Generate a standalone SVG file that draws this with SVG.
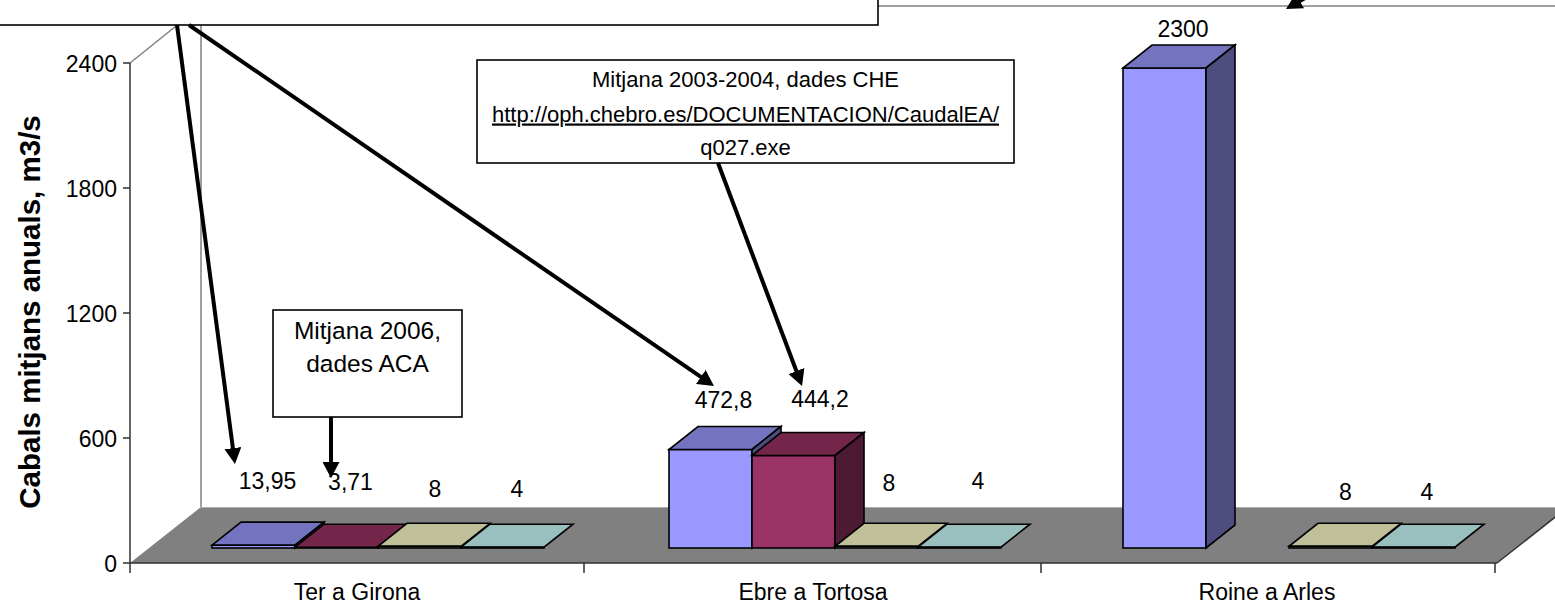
<svg xmlns="http://www.w3.org/2000/svg" width="1555" height="606" viewBox="0 0 1555 606">
<style>
text{font-family:"Liberation Sans",Arial,sans-serif;fill:#000}
.t{font-size:23px}
.m{text-anchor:middle}
.e{text-anchor:end}
.n1{font-size:24.5px}
.n2{font-size:22px}
.ttl{font-size:29.5px;font-weight:bold;text-anchor:middle}
.wall{stroke:#808080;stroke-width:1.5;fill:none}
.ax{stroke:#303030;stroke-width:1.5;fill:none}
.bar{stroke:#000;stroke-width:1.6;stroke-linejoin:miter}
.s1f{fill:#9999FF}.s1t{fill:#7373BF}.s1s{fill:#4D4D80}
.s2f{fill:#993366}.s2t{fill:#732649}.s2s{fill:#4D1A33}
.s3f{fill:#FFFFCC}.s3t{fill:#BFBF99}.s3s{fill:#808066}
.s4f{fill:#CCFFFF}.s4t{fill:#99BFBF}.s4s{fill:#668080}
.box{fill:#fff;stroke:#000;stroke-width:1.6}
.arr{stroke:#000;stroke-width:4;fill:none;marker-end:url(#ah)}
</style>
<defs>
<marker id="ah" markerUnits="userSpaceOnUse" viewBox="0 0 16 17" markerWidth="16" markerHeight="17" refX="4" refY="8.5" orient="auto">
<path d="M0,0 L16,8.5 L0,17 Z" fill="#000"/>
</marker>
</defs>
<rect width="1555" height="606" fill="#fff"/>
<g id="chart-frame">
<polygon points="130,563 201,507 1568,507 1497,563" fill="#808080"/>
<line class="wall" x1="201" y1="6" x2="1560" y2="6"/>
<line class="wall" x1="201" y1="6" x2="201" y2="507"/>
<line class="wall" x1="130" y1="63" x2="201" y2="6"/>
<line x1="201" y1="507.5" x2="1568" y2="507.5" stroke="#B0B0B0" stroke-width="1"/>
<line class="ax" x1="130" y1="563" x2="1497" y2="563"/>
<line class="ax" x1="1497" y1="563" x2="1568" y2="507"/>
<line class="ax" x1="130" y1="63" x2="130" y2="573"/>
<path class="ax" d="M123,63H130M123,188H130M123,313H130M123,438H130M123,563H130M584,563V573M1041,563V573M1495,563V573"/>
</g>
<g id="y-axis-labels">
<text class="t e" x="117" y="71.5">2400</text>
<text class="t e" x="117" y="196.5">1800</text>
<text class="t e" x="117" y="321.5">1200</text>
<text class="t e" x="117" y="446.5">600</text>
<text class="t e" x="117" y="571.5">0</text>
<text class="ttl" transform="translate(40,312) rotate(-90)">Cabals mitjans anuals, m3/s</text>
</g>
<g id="x-axis-labels">
<text class="t m" x="357" y="600">Ter a Girona</text>
<text class="t m" x="813" y="600">Ebre a Tortosa</text>
<text class="t m" x="1267" y="600">Roine a Arles</text>
</g>
<g id="bars-ter">
<rect class="bar s1f" x="212" y="545.1" width="83" height="2.9"/>
<polygon class="bar s1t" points="212,545.1 295,545.1 324,522.1 241,522.1"/>
<polygon class="bar s1s" points="295,545.1 324,522.1 324,525 295,548"/>
<rect class="bar s2f" x="295" y="547.2" width="83" height="0.8"/>
<polygon class="bar s2t" points="295,547.2 378,547.2 407,524.2 324,524.2"/>
<polygon class="bar s3t" points="378,546.3 461,546.3 490,523.3 407,523.3"/>
<rect class="bar s3f" x="378" y="546.3" width="83" height="1.7"/>
<polygon class="bar s4t" points="461,547.2 544,547.2 573,524.2 490,524.2"/>
<rect class="bar s4f" x="461" y="547.2" width="83" height="0.8"/>
</g>
<g id="bars-ebre">
<rect class="bar s1f" x="669" y="449.5" width="83" height="98.5"/>
<polygon class="bar s1t" points="669,449.5 752,449.5 781,426.5 698,426.5"/>
<polygon class="bar s1s" points="752,449.5 781,426.5 781,525 752,548"/>
<rect class="bar s2f" x="752" y="455.5" width="83" height="92.5"/>
<polygon class="bar s2t" points="752,455.5 835,455.5 864,432.5 781,432.5"/>
<polygon class="bar s2s" points="835,455.5 864,432.5 864,525 835,548"/>
<polygon class="bar s3t" points="835,546.3 918,546.3 947,523.3 864,523.3"/>
<rect class="bar s3f" x="835" y="546.3" width="83" height="1.7"/>
<polygon class="bar s4t" points="918,547.2 1001,547.2 1030,524.2 947,524.2"/>
<rect class="bar s4f" x="918" y="547.2" width="83" height="0.8"/>
</g>
<g id="bars-roine">
<rect class="bar s1f" x="1123" y="68" width="83" height="480"/>
<polygon class="bar s1t" points="1123,68 1206,68 1235,45 1152,45"/>
<polygon class="bar s1s" points="1206,68 1235,45 1235,525 1206,548"/>
<polygon class="bar s3t" points="1289,546.3 1372,546.3 1401,523.3 1318,523.3"/>
<rect class="bar s3f" x="1289" y="546.3" width="83" height="1.7"/>
<polygon class="bar s4t" points="1372,547.2 1455,547.2 1484,524.2 1401,524.2"/>
<rect class="bar s4f" x="1372" y="547.2" width="83" height="0.8"/>
</g>
<g id="data-labels">
<text class="t m" x="267.5" y="489">13,95</text>
<text class="t m" x="350.5" y="490">3,71</text>
<text class="t m" x="435" y="497">8</text>
<text class="t m" x="517" y="497">4</text>
<text class="t m" x="723.5" y="408">472,8</text>
<text class="t m" x="820" y="406.5">444,2</text>
<text class="t m" x="889" y="491">8</text>
<text class="t m" x="978" y="489">4</text>
<text class="t m" x="1183" y="36.5">2300</text>
<text class="t m" x="1345.5" y="500">8</text>
<text class="t m" x="1427" y="500">4</text>
</g>
<g id="note-top">
<rect class="box" x="-5" y="-30" width="883" height="55"/>
</g>
<g id="note-aca">
<rect class="box" x="273" y="310" width="189" height="107"/>
<text class="n1 m" x="367.5" y="338.5">Mitjana 2006,</text>
<text class="n1 m" x="367.5" y="372">dades ACA</text>
</g>
<g id="note-che">
<rect class="box" x="477" y="60" width="537" height="103"/>
<text class="n2 m" x="745.5" y="86.5">Mitjana 2003-2004, dades CHE</text>
<text class="n2 m" x="745.5" y="121.5" text-decoration="underline">http://oph.chebro.es/DOCUMENTACION/CaudalEA/</text>
<text class="n2 m" x="745.5" y="155">q027.exe</text>
</g>
<g id="connectors">
<line class="arr" x1="177" y1="25" x2="233.4" y2="452.1"/>
<line class="arr" x1="189" y1="25" x2="704.1" y2="379.2"/>
<line class="arr" x1="718" y1="163" x2="797.8" y2="374.8"/>
<line class="arr" x1="331" y1="417" x2="331" y2="466"/>
<line class="arr" x1="1400" y1="-57" x2="1296.4" y2="3"/>
</g>
</svg>
